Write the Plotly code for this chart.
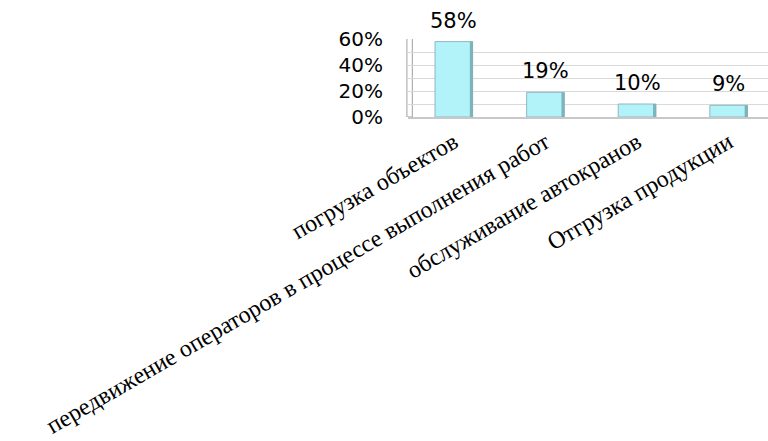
import plotly.graph_objects as go

categories = ["погрузка объектов",
              "передвижение операторов в процессе выполнения работ",
              "обслуживание автокранов",
              "Отгрузка продукции"]
values = [0.58, 0.19, 0.10, 0.09]
labels = ["58%", "19%", "10%", "9%"]
tick_vals = [0, 0.2, 0.4, 0.6]
tick_text = ["0%", "20%", "40%", "60%"]

fig = go.Figure()
fig.add_trace(go.Bar(x=categories, y=values, width=0.41,
                     marker=dict(color="#B2F3FA", line=dict(color="#8FB8C0", width=1)),
                     hoverinfo="skip"))
# darker side face of bars
fig.add_trace(go.Bar(x=categories, y=values, width=0.035, offset=0.175,
                     marker=dict(color="#7EB3BC", line=dict(width=0)),
                     hoverinfo="skip"))
for c, v, t in zip(categories, values, labels):
    fig.add_annotation(x=c, y=v, text=t, showarrow=False, yshift=21,
                       font=dict(family="DejaVu Sans", size=21, color="black"))

fig.update_layout(
    width=768, height=441, barmode="overlay",
    margin=dict(l=408, r=0, t=39, b=324, autoexpand=False),
    plot_bgcolor="white", paper_bgcolor="white", showlegend=False,
    xaxis=dict(range=[-0.5, 3.43], tickangle=-30, showgrid=False, automargin=False,
               tickfont=dict(family="Liberation Serif", size=24, color="black"),
               showline=True, linecolor="#C8C8C8", linewidth=2, ticks=""),
    yaxis=dict(range=[0, 0.6], tickvals=tick_vals, ticktext=tick_text, automargin=False,
               tickfont=dict(family="DejaVu Sans", size=20, color="black"),
               ticks="outside", ticklen=20, tickcolor="rgba(0,0,0,0)",
               showgrid=True, gridcolor="#D9D9D9", gridwidth=1,
               minor=dict(showgrid=True, gridcolor="#D9D9D9", dtick=0.1),
               zeroline=False, showline=False),
)
# back wall edge (3D look)
fig.add_shape(type="rect", xref="paper", yref="y", x0=-0.003, x1=0.012, y0=0, y1=0.62,
              line=dict(color="#A0A0A0", width=1), fillcolor="white", layer="below")
fig.write_html("out.html")
